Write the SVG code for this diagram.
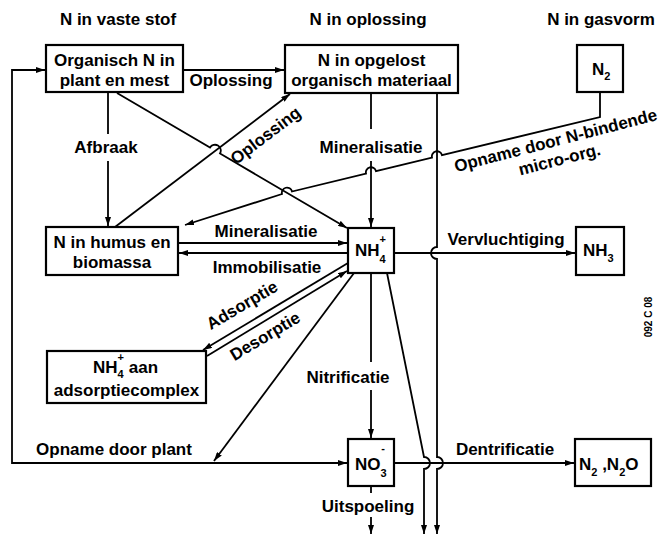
<svg xmlns="http://www.w3.org/2000/svg" width="668" height="536" viewBox="0 0 668 536">
<defs>
<marker id="ah" viewBox="0 0 9 6" refX="9" refY="3" markerWidth="9" markerHeight="6" markerUnits="userSpaceOnUse" orient="auto-start-reverse"><path d="M0,0 L9,3 L0,6 z" fill="#000"/></marker>
</defs>
<style>
text{font-family:"Liberation Sans",Arial,sans-serif;font-weight:bold;font-size:17px;fill:#000}
.c{text-anchor:middle}
.box{fill:#fff;stroke:#000;stroke-width:2.2}
.ln{fill:none;stroke:#000;stroke-width:1.8}
.ar{marker-end:url(#ah)}
.s{font-size:11px}
.wm{font-size:10px}
</style>
<rect width="668" height="536" fill="#fff"/>
<g id="headers">
<text class="c" x="118" y="25">N in vaste stof</text>
<text class="c" x="368" y="25">N in oplossing</text>
<text class="c" x="601" y="25">N in gasvorm</text>
</g>
<g id="connectors">
<path class="ln" d="M347,463 H12 V70 H45" marker-start="url(#ah)" marker-end="url(#ah)"/>
<path class="ln ar" d="M183,70 H284"/>
<path class="ln" d="M108,92 V134"/><path class="ln ar" d="M108,161 V226"/>
<path class="ln ar" d="M117,93 L210,147.6 A5.5 5.5 0 0 1 220,153.5 L347,228"/>
<path class="ln ar" d="M115,227 L290,94"/>
<path class="ln" d="M371,93 V129"/><path class="ln ar" d="M371,161 V227"/>
<path class="ln ar" d="M437,93 V247 A6 6 0 0 0 437,259 V457 A6 6 0 0 1 437,469 V534"/>
<path class="ln ar" d="M600,92 V117 L442,155.2 A5 5 0 0 0 432,157.6 L376,171.2 A5 5 0 0 0 366,173.6 L292,191.5 A5 5 0 0 0 282,194 L185,225"/>
<path class="ln ar" d="M178,243 H347"/>
<path class="ln ar" d="M348,253 H179"/>
<path class="ln ar" d="M348,263 L203,350"/>
<path class="ln ar" d="M207,356 L347,271"/>
<path class="ln ar" d="M354,273 L214,461"/>
<path class="ln" d="M371,273 V362"/><path class="ln ar" d="M371,390 V438"/>
<path class="ln ar" d="M387,273 L424,457 A6 6 0 0 1 424,469 V534"/>
<path class="ln ar" d="M394,253 H575"/>
<path class="ln ar" d="M394,463 H574"/>
<path class="ln" d="M371,486 V493"/><path class="ln ar" d="M371,517 V534"/>
<text class="c" x="231" y="86">Oplossing</text>
<text class="c" x="106" y="153">Afbraak</text>
<text class="c" transform="translate(269,140) rotate(-37.2)">Oplossing</text>
<text class="c" x="371" y="153">Mineralisatie</text>
<text class="c" transform="translate(557,146) rotate(-14.5)">Opname door N-bindende</text>
<text class="c" transform="translate(561,165) rotate(-14.5)">micro-org.</text>
<text class="c" x="266" y="237">Mineralisatie</text>
<text class="c" x="267" y="273">Immobilisatie</text>
<text class="c" x="506" y="245">Vervluchtiging</text>
<text class="c" transform="translate(245,310) rotate(-30.5)">Adsorptie</text>
<text class="c" transform="translate(268,341) rotate(-31)">Desorptie</text>
<text class="c" x="348" y="383">Nitrificatie</text>
<text class="c" x="114" y="455">Opname door plant</text>
<text class="c" x="505" y="455">Dentrificatie</text>
<text class="c" x="368" y="512">Uitspoeling</text>
</g>
<g id="n-organisch"><rect class="box" x="46" y="45" width="137" height="47"/><text class="c" x="114.5" y="66">Organisch N in</text><text class="c" x="114.5" y="86">plant en mest</text></g>
<g id="n-opgelost"><rect class="box" x="285" y="45" width="173" height="48"/><text class="c" x="371.5" y="66">N in opgelost</text><text class="c" x="371.5" y="86">organisch materiaal</text></g>
<g id="n-n2"><rect class="box" x="577" y="45" width="46" height="47"/><text x="592" y="75">N<tspan class="s" dy="5">2</tspan></text></g>
<g id="n-humus"><rect class="box" x="46" y="227" width="132" height="48"/><text class="c" x="112" y="248">N in humus en</text><text class="c" x="112" y="268">biomassa</text></g>
<g id="n-nh4"><rect class="box" x="348" y="228" width="46" height="45"/><text x="355" y="256">NH<tspan class="s" dy="7">4</tspan><tspan class="s" dx="-6.1" dy="-20">+</tspan></text></g>
<g id="n-nh3"><rect class="box" x="576" y="227" width="48" height="48"/><text x="583" y="256">NH<tspan class="s" dy="6">3</tspan></text></g>
<g id="n-adsorptie"><rect class="box" x="47" y="351" width="159" height="52"/><text x="93" y="373">NH<tspan class="s" dy="5">4</tspan><tspan class="s" dx="-6.1" dy="-17">+</tspan><tspan dy="12"> aan</tspan></text><text class="c" x="126.5" y="396">adsorptiecomplex</text></g>
<g id="n-no3"><rect class="box" x="348" y="439" width="46" height="47"/><text x="355" y="470">NO<tspan class="s" dy="7">3</tspan><tspan class="s" dx="-5.5" dy="-25">-</tspan></text></g>
<g id="n-n2o"><rect class="box" x="575" y="439" width="76" height="47"/><text x="579" y="470">N<tspan class="s" dy="6">2</tspan><tspan dy="-6"> ,N</tspan><tspan class="s" dy="6">2</tspan><tspan dy="-6">O</tspan></text></g>
<text class="wm c" transform="translate(652,317) rotate(-90)">092 C 08</text>
</svg>
